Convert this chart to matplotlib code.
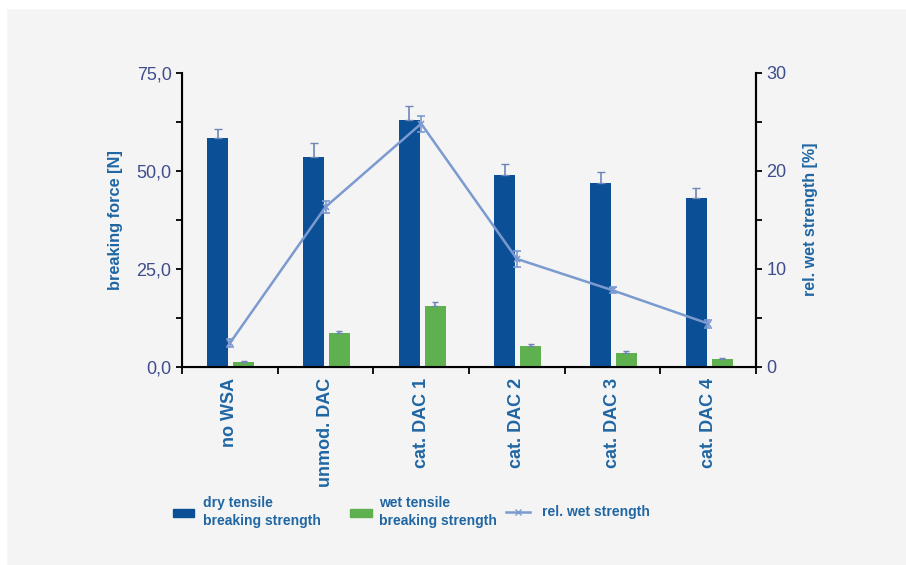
import numpy as np
import matplotlib
matplotlib.use("Agg")
import matplotlib.pyplot as plt
from matplotlib.patches import Rectangle
from matplotlib.ticker import MultipleLocator, FixedLocator, NullFormatter

categories = ["no WSA", "unmod. DAC", "cat. DAC 1", "cat. DAC 2", "cat. DAC 3", "cat. DAC 4"]
dry_force = [58.3, 53.6, 62.9, 48.8, 46.8, 43.0]
dry_err = [2.3, 3.4, 3.7, 2.9, 2.9, 2.7]
wet_force = [1.3, 8.7, 15.6, 5.3, 3.6, 1.9]
wet_err = [0.2, 0.4, 0.9, 0.5, 0.3, 0.2]
rel_wet = [2.4, 16.3, 24.8, 11.0, 7.8, 4.4]
rel_err = [0.4, 0.6, 0.8, 0.8, 0.3, 0.4]

DARK = "#0b4f96"
GREEN = "#5fb04f"
LINE = "#7b9ad0"
LABEL = "#1f66a3"
TICK = "#3f4d8c"
BG = "#f4f4f4"

plt.rcParams["font.family"] = ["Liberation Sans", "DejaVu Sans"]

fig = plt.figure(figsize=(9.06, 5.65), dpi=100, facecolor=BG)
# white margin on top and left, like the source screenshot
fig.patches.append(Rectangle((0, 0), 6 / 906, 1, transform=fig.transFigure, color="white", zorder=0))
fig.patches.append(Rectangle((0, 1 - 8 / 565), 1, 8 / 565, transform=fig.transFigure, color="white", zorder=0))

ax = fig.add_axes([182 / 906, 1 - 366.7 / 565, 574 / 906, 294 / 565])
ax.set_facecolor(BG)
x = np.arange(len(categories))

ax.bar(x - 0.125, dry_force, width=0.22, color=DARK, zorder=2)
ax.errorbar(x - 0.125, dry_force, yerr=[np.zeros(6), dry_err], fmt="none",
            ecolor="#6f86b5", elinewidth=1.2, capsize=3, zorder=3)
ax.bar(x + 0.145, wet_force, width=0.22, color=GREEN, zorder=2)
ax.errorbar(x + 0.145, wet_force, yerr=[np.zeros(6), wet_err], fmt="none",
            ecolor="#6f86b5", elinewidth=1.2, capsize=2, zorder=3)

ax.set_xlim(-0.5, 5.5)
ax.set_ylim(0, 75)
ax.yaxis.set_major_locator(MultipleLocator(25))
ax.yaxis.set_minor_locator(MultipleLocator(12.5))
ax.set_yticklabels([f"{v:.1f}".replace(".", ",") for v in ax.get_yticks()])
ax.xaxis.set_major_locator(FixedLocator(np.arange(-0.5, 6, 1)))
ax.xaxis.set_major_formatter(NullFormatter())
ax.xaxis.set_minor_locator(FixedLocator(x))
ax.set_xticklabels(categories, minor=True, rotation=90, fontsize=13,
                   fontweight="bold", color=LABEL, va="top")
ax.tick_params(axis="x", which="minor", length=0, pad=8)
ax.tick_params(axis="x", which="major", length=5, width=1.3)
ax.tick_params(axis="y", which="both", length=4, width=1.3, labelsize=13, labelcolor=TICK)
ax.set_ylabel("breaking force [N]", fontsize=11.8, fontweight="bold", color=LABEL, labelpad=10)
ax.spines["top"].set_visible(False)
for s in ("left", "bottom", "right"):
    ax.spines[s].set_linewidth(1.5)

ax2 = ax.twinx()
ax2.errorbar(x, rel_wet, yerr=rel_err, color=LINE, lw=1.8, marker="x", ms=5,
             mew=1.2, capsize=3, elinewidth=1.2, zorder=4)
ax2.set_ylim(0, 30)
ax2.yaxis.set_major_locator(MultipleLocator(10))
ax2.yaxis.set_minor_locator(MultipleLocator(5))
ax2.tick_params(axis="y", which="both", length=4, width=1.3, labelsize=13, labelcolor=TICK)
ax2.set_ylabel("rel. wet strength [%]", fontsize=11.5, fontweight="bold", color=LABEL, labelpad=12)
ax2.spines["top"].set_visible(False)
ax2.spines["right"].set_linewidth(1.5)

# three separate legend entries, spaced as in the original
entries = [
    (Rectangle((0, 0), 1, 1, color=DARK), "dry tensile\nbreaking strength", 173, 1.5, 0.65),
    (Rectangle((0, 0), 1, 1, color=GREEN), "wet tensile\nbreaking strength", 350, 1.55, 0.55),
    (plt.Line2D([], [], color=LINE, lw=1.8, marker="x", ms=4), "rel. wet strength", 506, 1.75, 0.85),
]
for handle, label, left, hlen, pad in entries:
    leg = fig.legend([handle], [label], loc="center left",
                     bbox_to_anchor=(left / 906, 1 - 512 / 565), frameon=False,
                     prop={"size": 10, "weight": "bold"}, labelcolor=LABEL,
                     handlelength=hlen, handleheight=0.5, handletextpad=pad,
                     borderpad=0, borderaxespad=0)
    for t in leg.get_texts():
        t.set_linespacing(1.3)

fig.savefig("out.png", dpi=100, facecolor=BG)
